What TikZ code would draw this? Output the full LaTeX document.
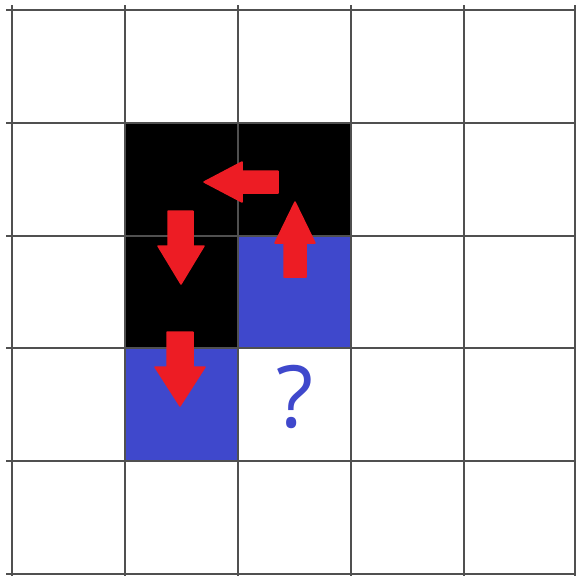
\documentclass[tikz,border=0pt]{standalone}
\usepackage{fontspec}
\setmainfont{Open Sans}
\definecolor{cellblue}{HTML}{3F48CC}
\definecolor{arrowred}{HTML}{ED1C24}
\definecolor{gridgray}{HTML}{505050}
\begin{document}
\begin{tikzpicture}[x=1pt,y=-1pt,
  gridline/.style={draw=gridgray,line width=1.3pt},
  redarrow/.style={fill=arrowred,draw=arrowred,line width=1.5pt,line join=round}]
\useasboundingbox (0,0) rectangle (576,576);
\fill[white] (0,0) rectangle (576,576);
% filled cells
\fill[black] (125,123) rectangle (238,348);
\fill[black] (238,123) rectangle (351,236);
\fill[cellblue] (238,236) rectangle (351,348);
\fill[cellblue] (125,348) rectangle (238,461);
% grid
\foreach \y in {10,123,236,348,461,574} \draw[gridline] (6,\y) -- (576,\y);
\foreach \x in {12,125,238,351,464,575} \draw[gridline] (\x,5) -- (\x,576);
% arrows
\path[redarrow] (278,171) -- (242,171) -- (242,162) -- (204,182) -- (242,202) -- (242,193) -- (278,193) -- cycle;
\path[redarrow] (168,211) -- (193,211) -- (193,246) -- (204,246) -- (181,284) -- (158,246) -- (168,246) -- cycle;
\path[redarrow] (284,277) -- (306,277) -- (306,243) -- (315,243) -- (295,202) -- (275,243) -- (284,243) -- cycle;
\path[redarrow] (167,332) -- (193,332) -- (193,367) -- (205,367) -- (180,406) -- (155,367) -- (167,367) -- cycle;
% question mark
\node[text=cellblue,font=\fontsize{86}{86}\selectfont,inner sep=0pt] (q) at (294.5,397) {?};
\end{tikzpicture}
\end{document}
